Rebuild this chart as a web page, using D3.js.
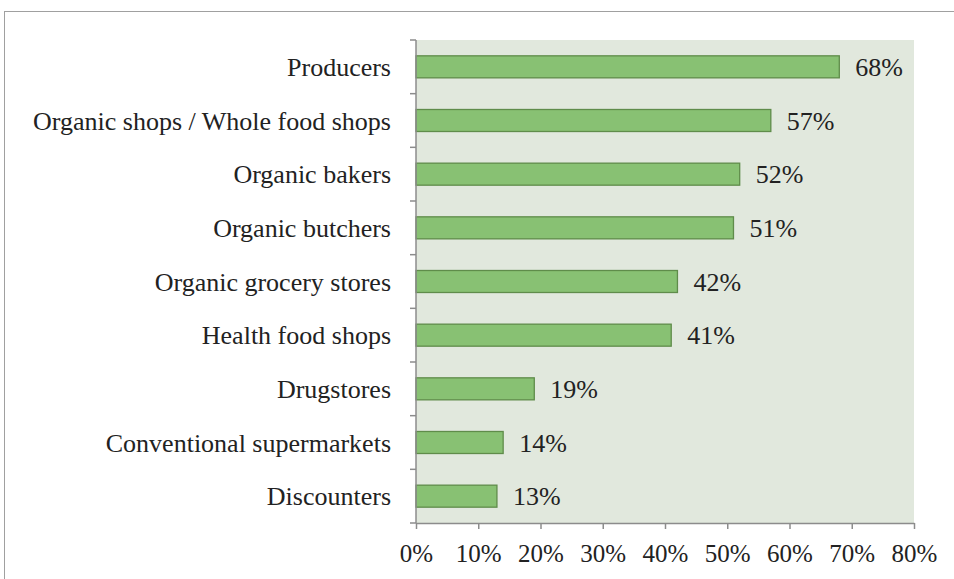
<!doctype html>
<html lang="en">
<head>
<meta charset="UTF-8">
<title>Where organic food is bought</title>
<style>
  body { margin: 0; background: #fff; }
  text { font-family: "Liberation Serif", "Times New Roman", serif; fill: #222; }
</style>
</head>
<body>
<script src="https://cdn.jsdelivr.net/npm/d3@7/dist/d3.min.js"></script>
<script>
// chart data
var categories = ["Producers", "Organic shops / Whole food shops", "Organic bakers",
  "Organic butchers", "Organic grocery stores", "Health food shops", "Drugstores",
  "Conventional supermarkets", "Discounters"];
var shares = [68, 57, 52, 51, 42, 41, 19, 14, 13];
var xTicks = [0, 10, 20, 30, 40, 50, 60, 70, 80];

var W = 954, H = 579;
var plot = { left: 416, right: 914, top: 40, bottom: 523 };

var svg = d3.select("body").append("svg")
  .attr("width", W).attr("height", H);

// outer frame
svg.append("rect")
  .attr("x", 4.5).attr("y", 11.5)
  .attr("width", W).attr("height", H)
  .attr("fill", "none").attr("stroke", "#a0a0a0").attr("stroke-width", 1);

var x = d3.scaleLinear().domain([0, 80]).range([plot.left, plot.right]);
var y = d3.scaleBand().domain(categories).range([plot.top, plot.bottom]).paddingInner(0.59).paddingOuter(0.295);

// plot background
svg.append("rect")
  .attr("x", plot.left).attr("y", plot.top)
  .attr("width", plot.right - plot.left).attr("height", plot.bottom - plot.top)
  .attr("fill", "#e1e8dd");

// bars
svg.selectAll(".bar").data(shares).enter().append("rect")
  .attr("class", "bar")
  .attr("x", x(0))
  .attr("y", function(d, i) { return y(categories[i]); })
  .attr("width", function(d) { return x(d) - x(0); })
  .attr("height", y.bandwidth())
  .attr("fill", "#88c173")
  .attr("stroke", "#5f8c4a").attr("stroke-width", 1.3);

// value labels
svg.selectAll(".val").data(shares).enter().append("text")
  .attr("class", "val")
  .attr("x", function(d) { return x(d) + 16; })
  .attr("y", function(d, i) { return y(categories[i]) + y.bandwidth() / 2; })
  .attr("dy", "0.35em")
  .attr("font-size", 26)
  .text(function(d) { return d + "%"; });

// category labels
svg.selectAll(".cat").data(categories).enter().append("text")
  .attr("class", "cat")
  .attr("x", plot.left - 25)
  .attr("y", function(d) { return y(d) + y.bandwidth() / 2; })
  .attr("dy", "0.35em")
  .attr("text-anchor", "end")
  .attr("font-size", 26)
  .text(function(d) { return d; });

var axisColor = "#8c8c8c";

// y axis line with ticks at band boundaries
var step = (plot.bottom - plot.top) / categories.length;
svg.append("line")
  .attr("x1", plot.left).attr("x2", plot.left)
  .attr("y1", plot.top).attr("y2", plot.bottom)
  .attr("stroke", axisColor).attr("stroke-width", 1.5);
svg.selectAll(".ytick").data(d3.range(categories.length + 1)).enter().append("line")
  .attr("class", "ytick")
  .attr("x1", plot.left - 6).attr("x2", plot.left)
  .attr("y1", function(i) { return plot.top + i * step; })
  .attr("y2", function(i) { return plot.top + i * step; })
  .attr("stroke", axisColor).attr("stroke-width", 1.5);

// x axis
var xAxis = d3.axisBottom(x).tickValues(xTicks)
  .tickFormat(function(d) { return d + "%"; })
  .tickSizeInner(6).tickSizeOuter(0).tickPadding(15);
var gx = svg.append("g")
  .attr("transform", "translate(0," + plot.bottom + ")")
  .call(xAxis);
gx.select(".domain").attr("stroke", axisColor).attr("stroke-width", 1.5);
gx.selectAll(".tick line").attr("stroke", axisColor).attr("stroke-width", 1.5);
gx.selectAll(".tick text")
  .attr("font-size", 25)
  .attr("font-family", "Liberation Serif, serif")
  .attr("fill", "#222");
</script>
</body>
</html>
